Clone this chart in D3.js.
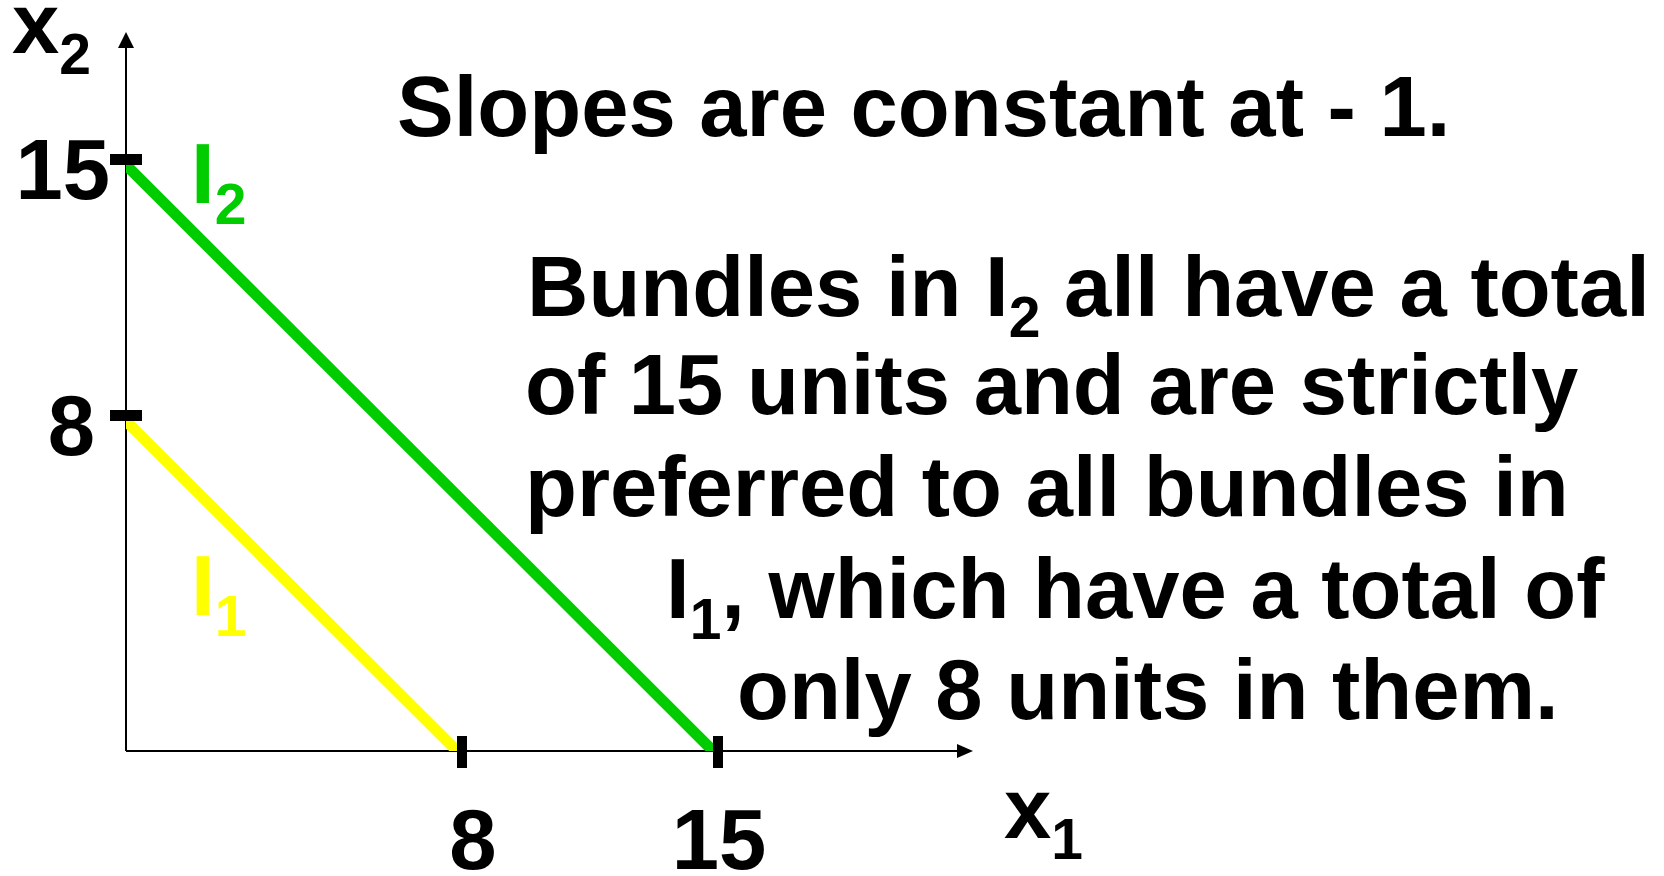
<!DOCTYPE html>
<html>
<head>
<meta charset="utf-8">
<script src="https://cdn.jsdelivr.net/npm/d3@7/dist/d3.min.js"></script>
<style>
  html, body { margin: 0; padding: 0; background: #ffffff; }
  svg { display: block; }
  text { font-family: "Liberation Sans", Arial, sans-serif; font-weight: bold; fill: #000; }
</style>
</head>
<body>
<svg id="chart" width="1664" height="876"></svg>
<script>
// Indifference curves for perfect substitutes: x1 + x2 = total
const curveNames  = ["I1", "I2"];
const curveTotals = [8, 15];
const curveColors = ["#ffff00", "#00cc00"];

// Axis tick values and labels
const xTickValues = [8, 15];
const xTickLabels = ["8", "15"];
const yTickValues = [8, 15];
const yTickLabels = ["8", "15"];

// Explanatory text, one entry per line; {sub: ...} marks a subscript
const titleLine = "Slopes are constant at - 1.";
const noteLines = [
  ["Bundles in I", {sub: "2"}, " all have a total"],
  ["of 15 units and are strictly"],
  ["preferred to all bundles in"],
  ["I", {sub: "1"}, ", which have a total of"],
  ["only 8 units in them."]
];

const svg = d3.select("#chart");
svg.append("rect").attr("width", 1664).attr("height", 876).attr("fill", "#fff");

const FS = 85, SUB_FS = 57, SUB_DY = 21;

// Scales (hand-spaced axis: 8 and 15 are placed at their own positions)
const x = d3.scaleLinear().domain([0, 8, 15]).range([126, 457, 713]);
const y = d3.scaleLinear().domain([0, 8, 15]).range([751, 421, 165]);

const x0 = x(0), y0 = y(0);
const xEnd = 973, yEnd = 32, headLen = 16, headHalf = 8;

// Axes with arrowheads
const axes = svg.append("g");
axes.append("line").attr("x1", x0).attr("y1", y0).attr("x2", x0).attr("y2", yEnd + headLen)
  .attr("stroke", "#000").attr("stroke-width", 2);
axes.append("path")
  .attr("d", `M${x0},${yEnd}L${x0 - headHalf},${yEnd + headLen}L${x0 + headHalf},${yEnd + headLen}Z`)
  .attr("fill", "#000");
axes.append("line").attr("x1", x0).attr("y1", y0).attr("x2", xEnd - headLen).attr("y2", y0)
  .attr("stroke", "#000").attr("stroke-width", 2);
axes.append("path")
  .attr("d", `M${xEnd},${y0}L${xEnd - headLen},${y0 - headHalf + 1}L${xEnd - headLen},${y0 + headHalf - 1}Z`)
  .attr("fill", "#000");

// Indifference lines, clipped to the positive quadrant
svg.append("clipPath").attr("id", "quad")
  .append("rect").attr("x", x0).attr("y", 0).attr("width", 1664).attr("height", y0);

const line = d3.line().x(d => x(d[0])).y(d => y(d[1]));
svg.append("g").attr("clip-path", "url(#quad)")
  .selectAll("path")
  .data(curveTotals.map((t, i) => ({t, color: curveColors[i]})))
  .join("path")
  .attr("d", d => line([[0, d.t], [d.t, 0]]))
  .attr("fill", "none")
  .attr("stroke", d => d.color)
  .attr("stroke-width", 11);

// Thick tick marks
svg.append("g").selectAll("rect")
  .data(xTickValues)
  .join("rect")
  .attr("x", d => x(d)).attr("y", y0 - 15)
  .attr("width", 10).attr("height", 32)
  .attr("fill", "#000");
svg.append("g").selectAll("rect")
  .data(yTickValues)
  .join("rect")
  .attr("x", x0 - 16).attr("y", d => y(d) - 11)
  .attr("width", 32).attr("height", 11)
  .attr("fill", "#000");

// Tick labels
const xLabelDx = {"8": 16, "15": 6};
svg.append("g").selectAll("text")
  .data(xTickValues)
  .join("text")
  .attr("x", (d, i) => x(d) + xLabelDx[xTickLabels[i]])
  .attr("y", y0 + 118)
  .attr("text-anchor", "middle")
  .attr("font-size", FS)
  .text((d, i) => xTickLabels[i]);

const yLabelRight = {"8": 95, "15": 110};
svg.append("g").selectAll("text")
  .data(yTickValues)
  .join("text")
  .attr("x", (d, i) => yLabelRight[yTickLabels[i]])
  .attr("y", d => y(d) + 34)
  .attr("text-anchor", "end")
  .attr("font-size", FS)
  .text((d, i) => yTickLabels[i]);

// Writes a label with a subscript using tspans
function labelWithSub(g, px, py, main, sub, color) {
  const t = g.append("text").attr("x", px).attr("y", py).attr("font-size", FS);
  if (color) t.style("fill", color);
  t.append("tspan").text(main);
  t.append("tspan").attr("dy", SUB_DY).attr("font-size", SUB_FS).text(sub);
  return t;
}

// Axis titles
labelWithSub(svg, 12, 53, "x", "2");
labelWithSub(svg, 1004, 838, "x", "1");

// Curve labels
labelWithSub(svg, 191, 203, curveNames[1][0], curveNames[1][1], curveColors[1]);
labelWithSub(svg, 191, 615, curveNames[0][0], curveNames[0][1], curveColors[0]);

// Title line
svg.append("text").attr("x", 397).attr("y", 136).attr("font-size", FS).text(titleLine);

// Note paragraph
const noteX = [527, 525, 525, 666, 737];
const noteY = [316, 414, 516, 618, 719];
noteLines.forEach((segs, i) => {
  const t = svg.append("text").attr("x", noteX[i]).attr("y", noteY[i]).attr("font-size", FS);
  let shifted = false;
  segs.forEach(s => {
    if (typeof s === "string") {
      const ts = t.append("tspan").text(s);
      if (shifted) { ts.attr("dy", -SUB_DY); shifted = false; }
    } else {
      t.append("tspan").attr("dy", SUB_DY).attr("font-size", SUB_FS).text(s.sub);
      shifted = true;
    }
  });
});
</script>
</body>
</html>
